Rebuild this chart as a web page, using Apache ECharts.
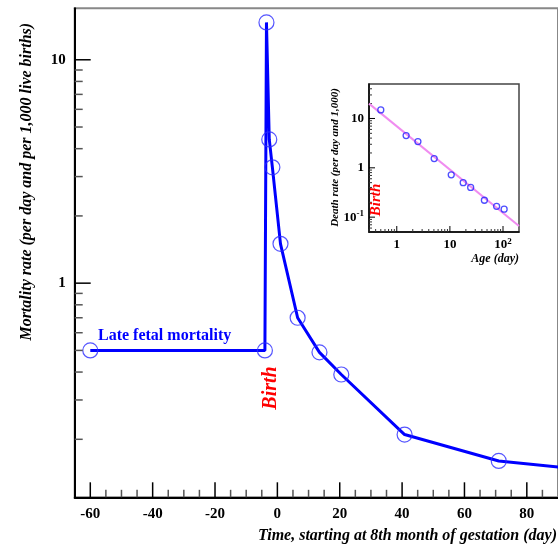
<!DOCTYPE html>
<html><head><meta charset="utf-8">
<script src="https://cdn.jsdelivr.net/npm/echarts@6/dist/echarts.min.js"></script>
<style>html,body{margin:0;padding:0;background:#fff}#c{width:558px;height:550px}</style>
</head><body><div id="c"></div>
<script>
// ---- data ----
const fetalDays = [-60, -4];
const fetalRates = [0.5, 0.5];
const postDays = [-3.5, -2.6, -1.6, 1, 6.5, 13.5, 20.5, 40.8, 71, 101];
const postRates = [14.7, 4.4, 3.3, 1.5, 0.70, 0.49, 0.39, 0.21, 0.16, 0.145];
const insetAges = [0.5, 1.5, 2.5, 5.06, 10.6, 17.8, 24.6, 44.6, 75.8, 105];
const insetRates = [14.9, 4.5, 3.4, 1.54, 0.72, 0.50, 0.40, 0.22, 0.166, 0.145];
const fitAges = [0.3, 200];
const fitRates = [20, 0.066];
// tick values
const mainXLabels = [-60, -40, -20, 0, 20, 40, 60, 80];
const mainXMinor = [-55, -50, -45, -35, -30, -25, -15, -10, -5, 5, 10, 15, 25, 30, 35, 45, 50, 55, 65, 70, 75, 85];
const mainYMajor = [1, 10];
const mainYMinor = [0.2, 0.3, 0.4, 0.5, 0.6, 0.7, 0.8, 0.9, 2, 3, 4, 5, 6, 7, 8, 9];
const insetXMajor = [1, 10, 100];
const insetXMinor = [0.3, 0.4, 0.5, 0.6, 0.7, 0.8, 0.9, 2, 3, 4, 5, 6, 7, 8, 9, 20, 30, 40, 50, 60, 70, 80, 90];
const insetYMajor = [0.1, 1, 10];
const insetYMinor = [0.06, 0.07, 0.08, 0.09, 0.2, 0.3, 0.4, 0.5, 0.6, 0.7, 0.8, 0.9, 2, 3, 4, 5, 6, 7, 8, 9, 20, 30, 40];

const SERIF = "'Liberation Serif', 'Times New Roman', 'DejaVu Serif', serif";
const mainLine = fetalDays.map((d, i) => [d, fetalRates[i]]).concat(postDays.map((d, i) => [d, postRates[i]]));

function powLabel(v) {
  const l = Math.log10(v);
  const e = Math.round(l);
  if (Math.abs(l - e) > 1e-6) return '';
  if (e === 0) return '{b|1}';
  if (e === 1) return '{b|10}';
  return '{b|10}{s|' + e + '}';
}

function tickSeries(xi, yi, values, orient, len, ref, color, width) {
  return {
    type: 'custom', xAxisIndex: xi, yAxisIndex: yi, silent: true, z: 5,
    data: values.map(v => [v]),
    renderItem: function (params, api) {
      const v = api.value(0);
      const cs = params.coordSys;
      if (orient === 'y') {
        const y = api.coord([ref, v])[1];
        return { type: 'line', shape: { x1: cs.x, y1: y, x2: cs.x + len, y2: y }, style: { stroke: color, lineWidth: width } };
      } else {
        const x = api.coord([v, ref])[0];
        const yb = cs.y + cs.height;
        return { type: 'line', shape: { x1: x, y1: yb, x2: x, y2: yb - len }, style: { stroke: color, lineWidth: width } };
      }
    }
  };
}

const chart = echarts.init(document.getElementById('c'), null, { renderer: 'canvas' });
chart.setOption({
  animation: false,
  backgroundColor: '#fff',
  grid: [
    { left: 74.7, top: 8.3, right: -4.7, bottom: 52.7, show: true, borderColor: '#888', borderWidth: 2, backgroundColor: 'transparent' },
    { left: 369, top: 84, width: 150, height: 148, show: true, borderColor: '#444', borderWidth: 1.5, backgroundColor: '#fff' }
  ],
  xAxis: [
    { type: 'value', gridIndex: 0, min: -65, max: 90,
      axisLine: { onZero: false, lineStyle: { color: '#000', width: 2 } },
      axisTick: { show: false }, splitLine: { show: false },
      axisLabel: { customValues: mainXLabels, margin: 9, color: '#000', fontFamily: SERIF, fontWeight: 'bold', fontSize: 15 } },
    { type: 'log', logBase: 10, gridIndex: 1, min: 0.3, max: 200,
      axisLine: { onZero: false, lineStyle: { color: '#000', width: 1.5 } },
      axisTick: { show: false }, splitLine: { show: false },
      axisLabel: { formatter: powLabel, margin: 5, color: '#000',
        rich: { b: { fontFamily: SERIF, fontWeight: 'bold', fontSize: 13, color: '#000', lineHeight: 16 },
                s: { fontFamily: SERIF, fontWeight: 'bold', fontSize: 9, color: '#000', verticalAlign: 'top', lineHeight: 16 } } } }
  ],
  yAxis: [
    { type: 'log', logBase: 10, gridIndex: 0, min: 0.11, max: 17,
      axisLine: { onZero: false, lineStyle: { color: '#000', width: 2 } },
      axisTick: { show: false }, splitLine: { show: false },
      axisLabel: { formatter: powLabel, margin: 9, color: '#000',
        rich: { b: { fontFamily: SERIF, fontWeight: 'bold', fontSize: 15, color: '#000' } } } },
    { type: 'log', logBase: 10, gridIndex: 1, min: 0.05, max: 50,
      axisLine: { onZero: false, lineStyle: { color: '#000', width: 1.5 } },
      axisTick: { show: false }, splitLine: { show: false },
      axisLabel: { formatter: powLabel, margin: 5, color: '#000',
        rich: { b: { fontFamily: SERIF, fontWeight: 'bold', fontSize: 13, color: '#000', lineHeight: 16 },
                s: { fontFamily: SERIF, fontWeight: 'bold', fontSize: 9, color: '#000', verticalAlign: 'top', lineHeight: 16 } } } }
  ],
  series: [
    { type: 'line', xAxisIndex: 0, yAxisIndex: 0, data: mainLine, showSymbol: false, symbol: 'none',
      lineStyle: { color: '#0000ff', width: 3 }, z: 2, clip: true },
    { type: 'scatter', xAxisIndex: 0, yAxisIndex: 0, data: mainLine, symbol: 'circle', symbolSize: 15,
      itemStyle: { color: 'rgba(0,0,0,0)', borderColor: '#2a2aff', borderWidth: 1.2 }, z: 3, clip: true },
    tickSeries(0, 0, mainYMajor, 'y', 16, 0, '#000', 1.5),
    tickSeries(0, 0, mainYMinor, 'y', 8, 0, '#555', 1.5),
    tickSeries(0, 0, mainXLabels, 'x', 15, 1, '#000', 1.5),
    tickSeries(0, 0, mainXMinor, 'x', 7.5, 1, '#555', 1.5),
    { type: 'line', xAxisIndex: 1, yAxisIndex: 1, data: fitAges.map((a, i) => [a, fitRates[i]]), symbol: 'none',
      lineStyle: { color: '#f08cf0', width: 2 }, z: 6 },
    { type: 'scatter', xAxisIndex: 1, yAxisIndex: 1, data: insetAges.map((a, i) => [a, insetRates[i]]), symbol: 'circle', symbolSize: 6,
      itemStyle: { color: 'rgba(0,0,0,0)', borderColor: '#2020ff', borderWidth: 1.3 }, z: 7 },
    tickSeries(1, 1, insetYMajor, 'y', 6, 1, '#000', 1),
    tickSeries(1, 1, insetYMinor, 'y', 3, 1, '#333', 1),
    tickSeries(1, 1, insetXMajor, 'x', 6, 1, '#000', 1),
    tickSeries(1, 1, insetXMinor, 'x', 3, 1, '#333', 1)
  ],
  graphic: [
    { type: 'text', x: 26.7, y: 181.7, rotation: Math.PI / 2, z: 10,
      style: { text: 'Mortality rate (per day and per 1,000 live births)', fill: '#000', align: 'center', verticalAlign: 'middle',
        font: 'italic bold 16px ' + SERIF } },
    { type: 'text', x: 557, y: 536, z: 10,
      style: { text: 'Time, starting at 8th month of gestation (day)', fill: '#000', align: 'right', verticalAlign: 'middle',
        font: 'italic bold 16px ' + SERIF } },
    { type: 'text', x: 98, y: 336, z: 10,
      style: { text: 'Late fetal mortality', fill: '#0000ff', align: 'left', verticalAlign: 'middle',
        font: 'bold 16px ' + SERIF } },
    { type: 'text', x: 271, y: 388, rotation: Math.PI / 2, z: 10,
      style: { text: 'Birth', fill: '#ff0000', align: 'center', verticalAlign: 'middle',
        font: 'italic bold 20px ' + SERIF } },
    { type: 'text', x: 335, y: 157.5, rotation: Math.PI / 2, z: 10,
      style: { text: 'Death rate (per day and 1,000)', fill: '#000', align: 'center', verticalAlign: 'middle',
        font: 'italic bold 11px ' + SERIF } },
    { type: 'text', x: 519, y: 258.5, z: 10,
      style: { text: 'Age (day)', fill: '#000', align: 'right', verticalAlign: 'middle',
        font: 'italic bold 12px ' + SERIF } },
    { type: 'text', x: 376, y: 200, rotation: Math.PI / 2, z: 10,
      style: { text: 'Birth', fill: '#ff0000', align: 'center', verticalAlign: 'middle',
        font: 'italic bold 15px ' + SERIF } }
  ]
});
</script></body></html>
